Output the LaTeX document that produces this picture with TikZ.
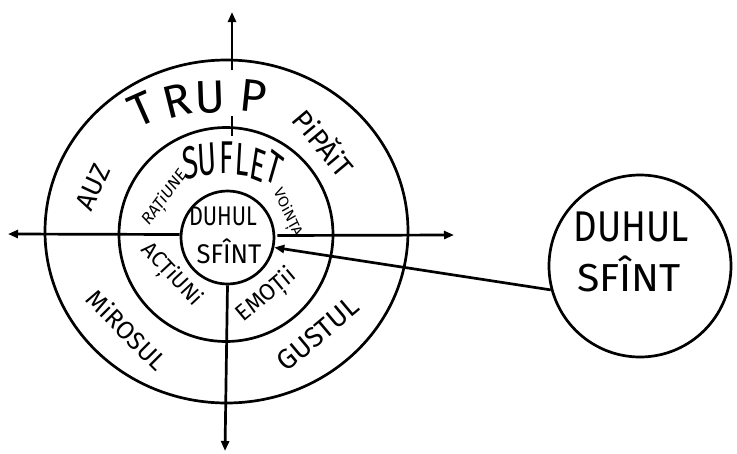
\documentclass[tikz,border=0pt]{standalone}
\usepackage{fontspec}
\setmainfont{Fira Sans}
\usetikzlibrary{arrows.meta}
\begin{document}
\begin{tikzpicture}[x=1pt,y=-1pt,
  ln/.style={line width=2.7pt},
  arr/.style={ln,-{Triangle[length=10pt,width=8pt]}},
  lbl/.style={inner sep=0pt, font=\fontsize{#1}{#1}\selectfont},
  ring/.style={draw, circle, ln, inner sep=0pt},
]
\useasboundingbox (0,0) rectangle (737,453);
\fill[white] (0,0) rectangle (737,453);

% rings
\draw[ln] (226.5,231.5) ellipse [x radius=181.5pt, y radius=171.5pt];
\draw[ln] (226,234.5) circle [radius=107pt];
\node[ring, minimum size=93pt] (inner) at (227.5,237.5) {};
\node[ring, minimum size=182pt] (big) at (640,266) {};

% axes
\coordinate (ntip) at (232,12);
\coordinate (nstart) at (232,70);
\coordinate (wtip) at (8,234);
\coordinate (etip) at (454,235);
\coordinate (stip) at (225,451);
\draw[arr] (nstart) -- (ntip);
\draw[ln] (232,116) -- (232,136);
\draw[arr] (inner.west) ++(0,-3) -- (wtip);
\draw[arr] (inner.east) ++(2,-2) -- (etip);
\draw[arr] (inner.south) -- (stip);
\draw[arr] (big.195) -- (inner.-12);

% central texts
\node[lbl=27, xscale=0.8] (d1) at (223,216) {DUHUL};
\node[lbl=27, xscale=0.95] (d2) at (229,251) {SFÎNT};
\node[lbl=43, xscale=0.85] (b1) at (631,227) {DUHUL};
\node[lbl=39, xscale=1.05] (b2) at (629,274) {SFÎNT};

% TRUP
\node[lbl=46, rotate=24] (t1) at (142,109) {T};
\node[lbl=46, rotate=14] (t2) at (177,101) {R};
\node[lbl=46, rotate=2]  (t3) at (210,97) {U};
\node[lbl=46, rotate=-6] (t4) at (253,96) {P};

% SUFLET
\node[lbl=46, xscale=0.62, rotate=10]  (s1) at (190,163) {S};
\node[lbl=46, xscale=0.62, rotate=5]   (s2) at (207,160) {U};
\node[lbl=46, xscale=0.62, rotate=0]   (s3) at (226,158) {F};
\node[lbl=46, xscale=0.62, rotate=-5]  (s4) at (242,160) {L};
\node[lbl=46, xscale=0.62, rotate=-14] (s5) at (258,165) {E};
\node[lbl=46, xscale=0.62, rotate=-25] (s6) at (274,168) {T};

% outer ring labels
\node[lbl=28, rotate=-50] (pip) at (325,142) {PiPĂiT};
\node[lbl=27, rotate=65]  (auz) at (93,187) {AUZ};
\node[lbl=25, rotate=-45] (mir) at (127,330) {MiROSUL};
\node[lbl=28, rotate=40]  (gus) at (318,334) {GUSTUL};

% middle ring labels
\node[lbl=18, xscale=0.85, rotate=49] (rat) at (165,198) {RAȚiUNE};
\node[lbl=16, xscale=0.9, rotate=-63] (voi) at (287,213) {VOiNȚA};
\node[lbl=22, rotate=-47] (act) at (171,275) {ACȚiUNi};
\node[lbl=23, rotate=40]  (emo) at (267,296) {EMOȚii};
\end{tikzpicture}
\end{document}
